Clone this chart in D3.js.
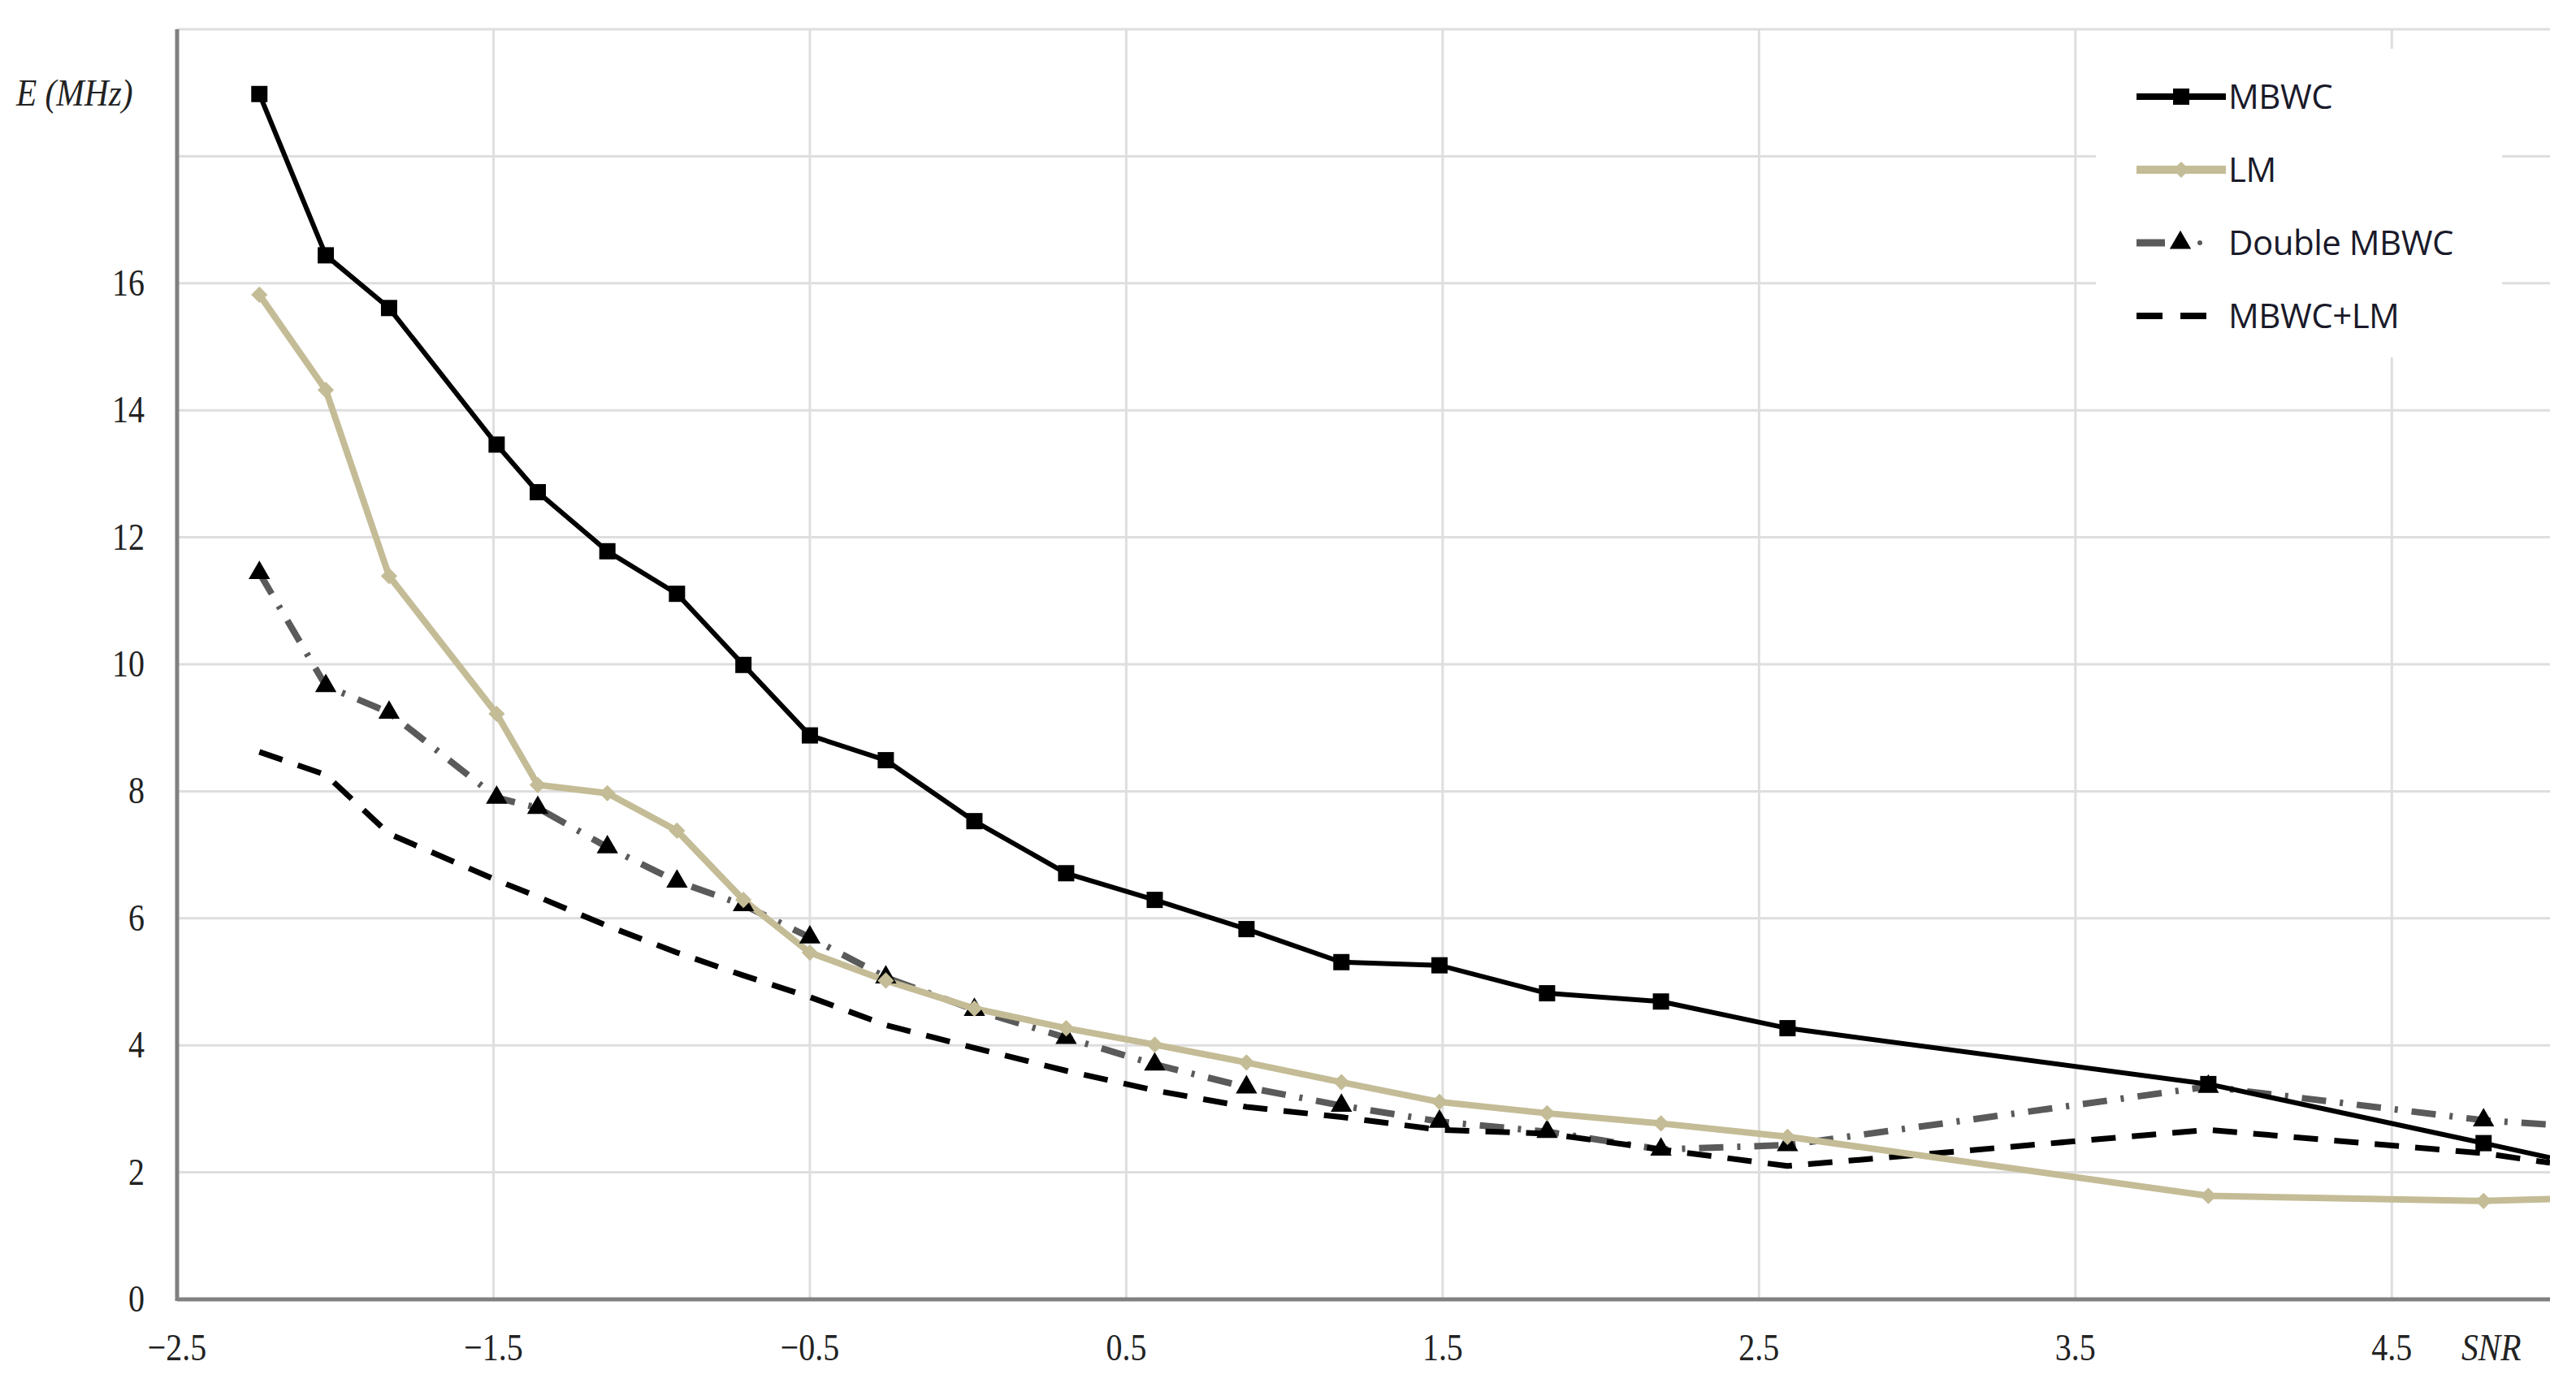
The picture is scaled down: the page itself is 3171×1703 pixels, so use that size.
<!DOCTYPE html>
<html>
<head>
<meta charset="utf-8">
<script src="https://cdn.jsdelivr.net/npm/d3@7"></script>
<style>
  body { margin: 0; background: #fff; }
  svg { display: block; }
</style>
</head>
<body>
<svg id="viz"></svg>
<script>
const width = 3171;
const height = 1703;

// SNR values shared by all four series
const snr = [-2.24, -2.03, -1.83, -1.49, -1.36, -1.14, -0.92, -0.71, -0.50, -0.26,
  0.02, 0.31, 0.59, 0.88, 1.18, 1.49, 1.83, 2.19, 2.59, 3.92, 4.79, 5.0];

const mbwc = [18.98, 16.44, 15.61, 13.46, 12.71, 11.78, 11.11, 9.99, 8.88, 8.49,
  7.53, 6.71, 6.29, 5.83, 5.31, 5.26, 4.82, 4.69, 4.27, 3.39, 2.46, 2.23];
const lm = [15.82, 14.32, 11.39, 9.22, 8.10, 7.97, 7.38, 6.29, 5.46, 5.02,
  4.58, 4.27, 4.01, 3.73, 3.42, 3.11, 2.93, 2.77, 2.56, 1.63, 1.55, 1.58];
const doubleMbwc = [11.44, 9.66, 9.24, 7.90, 7.74, 7.12, 6.58, 6.21, 5.70, 5.07,
  4.56, 4.12, 3.70, 3.34, 3.05, 2.80, 2.64, 2.36, 2.43, 3.35, 2.82, 2.75];
const mbwcLm = [8.62, 8.26, 7.33, 6.60, 6.34, 5.88, 5.46, 5.10, 4.76, 4.32,
  3.96, 3.60, 3.29, 3.03, 2.87, 2.67, 2.61, 2.36, 2.10, 2.67, 2.30, 2.15];

const xTicks = [-2.5, -1.5, -0.5, 0.5, 1.5, 2.5, 3.5, 4.5];
const yTicks = [0, 2, 4, 6, 8, 10, 12, 14, 16];
const yGrid = [2, 4, 6, 8, 10, 12, 14, 16, 18, 20];

const margin = {left: 218, right: 32, top: 36, bottom: 103};

const x = d3.scaleLinear().domain([-2.5, 5.0]).range([margin.left, width - margin.right]);
const y = d3.scaleLinear().domain([0, 20]).range([height - margin.bottom, margin.top]);

const svg = d3.select("#viz").attr("width", width).attr("height", height);

// grid
svg.append("g").selectAll("line").data(yGrid).enter().append("line")
    .attr("x1", x(-2.5)).attr("x2", x(5.0))
    .attr("y1", d => y(d)).attr("y2", d => y(d))
    .attr("stroke", "#dedede").attr("stroke-width", 3);
svg.append("g").selectAll("line").data(xTicks.slice(1)).enter().append("line")
    .attr("x1", d => x(d)).attr("x2", d => x(d))
    .attr("y1", y(0)).attr("y2", y(20))
    .attr("stroke", "#dedede").attr("stroke-width", 3);

// axes lines
svg.append("line").attr("x1", x(-2.5)).attr("x2", x(5.0)).attr("y1", y(0)).attr("y2", y(0))
    .attr("stroke", "#808080").attr("stroke-width", 5);
svg.append("line").attr("x1", x(-2.5)).attr("x2", x(-2.5)).attr("y1", y(0) + 2).attr("y2", y(20))
    .attr("stroke", "#808080").attr("stroke-width", 5);

// tick labels
const fmt = d => (d < 0 ? "\u2212" : "") + Math.abs(d).toFixed(1);
svg.append("g").selectAll("text").data(xTicks).enter().append("text")
    .attr("transform", d => `translate(${x(d)},${height - 28}) scale(0.85,1)`)
    .attr("text-anchor", "middle")
    .style("font-family", "'Liberation Serif', serif").style("font-size", "47px")
    .attr("fill", "#222")
    .text(fmt);
svg.append("g").selectAll("text").data(yTicks).enter().append("text")
    .attr("transform", d => `translate(${margin.left - 40},${y(d) + 15}) scale(0.85,1)`)
    .attr("text-anchor", "end")
    .style("font-family", "'Liberation Serif', serif").style("font-size", "47px")
    .attr("fill", "#222")
    .text(d => d);

svg.append("text")
    .attr("transform", `translate(20,130) scale(0.88,1)`)
    .style("font-family", "'Liberation Serif', serif").style("font-size", "47px")
    .style("font-style", "italic").attr("fill", "#222")
    .text("E (MHz)");
svg.append("text")
    .attr("transform", `translate(${x(4.72)},${height - 28}) scale(0.88,1)`)
    .style("font-family", "'Liberation Serif', serif").style("font-size", "47px")
    .style("font-style", "italic").attr("fill", "#222")
    .text("SNR");

// series
const series = [
  {name: "Double MBWC", values: doubleMbwc, color: "#5a5a5a", width: 8, dash: "30,17,4,17", marker: "triangle"},
  {name: "MBWC+LM", values: mbwcLm, color: "#000", width: 7, dash: "30,20", marker: null},
  {name: "LM", values: lm, color: "#c4bc96", width: 8, dash: null, marker: "diamond"},
  {name: "MBWC", values: mbwc, color: "#000", width: 6, dash: null, marker: "square"}
];

svg.append("clipPath").attr("id", "plotclip").append("rect")
    .attr("x", x(-2.5)).attr("y", 0).attr("width", x(5.0) - x(-2.5)).attr("height", height);

const plot = svg.append("g").attr("clip-path", "url(#plotclip)");
const line = d3.line().x(d => x(d[0])).y(d => y(d[1]));

series.forEach(s => {
  const pts = snr.map((v, i) => [v, s.values[i]]);
  plot.append("path").datum(pts)
      .attr("d", line)
      .attr("fill", "none")
      .attr("stroke", s.color)
      .attr("stroke-width", s.width)
      .attr("stroke-linejoin", "round")
      .attr("stroke-dasharray", s.dash);
});

const symbols = {
  square: d3.symbol().type(d3.symbolSquare).size(400),
  triangle: d3.symbol().type(d3.symbolTriangle).size(300),
  diamond: d3.symbol().type(d3.symbolDiamond2).size(260)
};
const markerColor = {square: "#000", triangle: "#000", diamond: "#c4bc96"};

series.forEach(s => {
  if (!s.marker) return;
  const pts = snr.map((v, i) => [v, s.values[i]]).filter(d => d[0] < 5.0);
  plot.append("g").selectAll("path").data(pts).enter().append("path")
      .attr("d", symbols[s.marker])
      .attr("transform", d => `translate(${x(d[0])},${y(d[1])})`)
      .attr("fill", markerColor[s.marker]);
});

// legend
const legendItems = ["MBWC", "LM", "Double MBWC", "MBWC+LM"];
const lg = svg.append("g").attr("transform", "translate(2610,60)");
lg.append("rect").attr("x", -30).attr("y", 0).attr("width", 500).attr("height", 380).attr("fill", "#fff");
legendItems.forEach((name, i) => {
  const s = series.find(d => d.name === name);
  const g = lg.append("g").attr("transform", `translate(0,${59 + i * 90})`);
  if (name === "Double MBWC") {
    g.append("line").attr("x1", 20).attr("x2", 55).attr("y1", 0).attr("y2", 0)
        .attr("stroke", s.color).attr("stroke-width", 9);
    g.append("path").attr("d", symbols.triangle).attr("transform", "translate(74,0)").attr("fill", "#000");
    g.append("circle").attr("cx", 98).attr("cy", 0).attr("r", 3).attr("fill", s.color);
  } else if (name === "MBWC+LM") {
    g.append("line").attr("x1", 20).attr("x2", 52).attr("y1", 0).attr("y2", 0)
        .attr("stroke", "#000").attr("stroke-width", 8);
    g.append("line").attr("x1", 74).attr("x2", 106).attr("y1", 0).attr("y2", 0)
        .attr("stroke", "#000").attr("stroke-width", 8);
  } else {
    g.append("line").attr("x1", 20).attr("x2", 130).attr("y1", 0).attr("y2", 0)
        .attr("stroke", s.color).attr("stroke-width", s.width + 2);
    g.append("path").attr("d", symbols[s.marker]).attr("transform", "translate(75,0)")
        .attr("fill", markerColor[s.marker]);
  }
  g.append("text").attr("x", 133)
      .attr("y", 15)
      .style("font-family", "'Open Sans', sans-serif").style("font-size", "42px")
      .style("letter-spacing", "-0.5px")
      .attr("fill", "#1a1a2a")
      .text(name);
});
</script>
</body>
</html>
